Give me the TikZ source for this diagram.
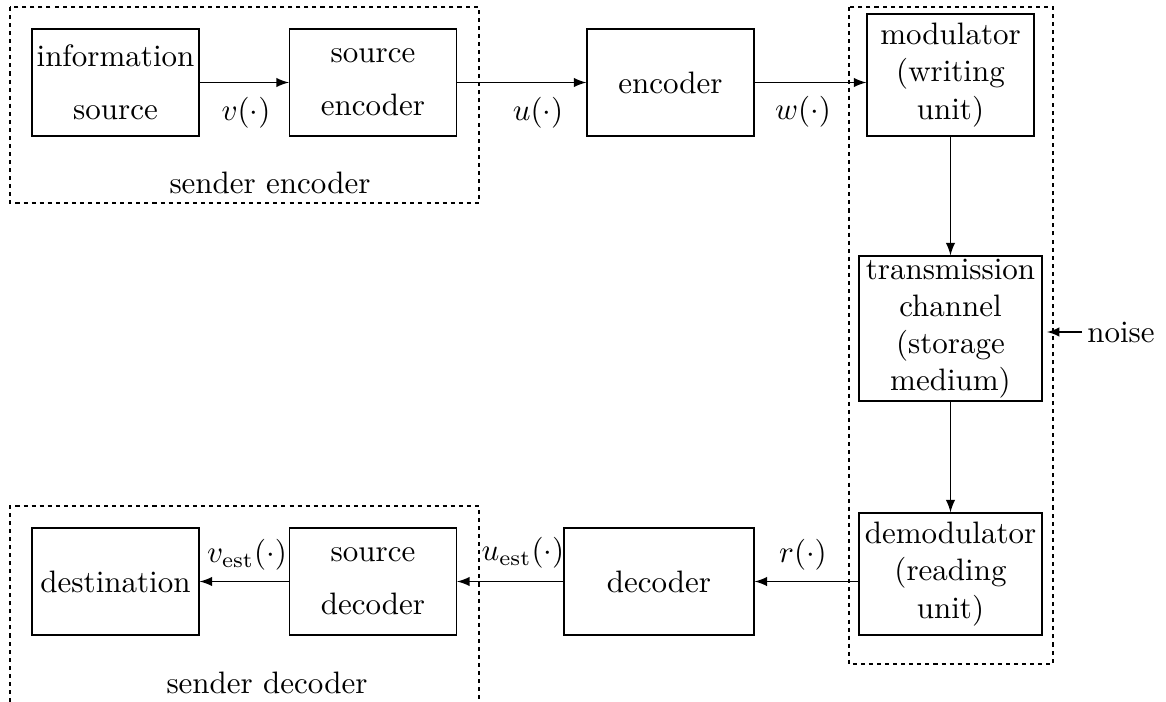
\documentclass[tikz,border=0pt]{standalone}
\begin{document}
\begin{tikzpicture}[x=0.3226pt,y=-0.3226pt,>=latex,
  box/.style={draw, line width=0.4pt, inner sep=0pt, align=center,
              minimum width=53.9pt, minimum height=34.5pt},
  lbl/.style={inner sep=0pt},
  dashbox/.style={draw, line width=0.4pt, dash pattern=on 1.3pt off 1.3pt},
  conn/.style={->, line width=0.4pt}]
\useasboundingbox (0,0) rectangle (1166,702);

% dashed groups
\draw[dashbox] (10,7) rectangle (479,203);
\draw[dashbox] (849,7) rectangle (1053,664);
\draw[dashbox] (10,702) -- (10,506) -- (479,506) -- (479,702);

% blocks
\node[box] (info) at (115.5,82.5) {information\\[5.2pt]source};
\node[box] (senc) at (373,82.5) {source\\[5.2pt]encoder};
\node[box] (enc) at (670.5,82.5) {encoder};
\node[box, minimum height=39.4pt] (mod) at (950.5,75) {modulator\\(writing\\unit)};
\node[box, minimum width=59pt, minimum height=46.8pt] (trans) at (950.5,328.5) {transmission\\channel\\(storage\\medium)};
\node[box, minimum width=59pt, minimum height=39.4pt] (demod) at (950.5,574) {demodulator\\(reading\\unit)};
\node[box, minimum width=61.3pt] (dec) at (659,581.5) {decoder};
\node[box] (sdec) at (373,581.5) {source\\[5.2pt]decoder};
\node[box] (dest) at (115.5,581.5) {destination};

% connectors
\draw[conn] (info) -- (senc);
\draw[conn] (senc) -- (enc);
\draw[conn] (enc) -- (enc -| mod.west);
\draw[conn] (mod) -- (trans);
\draw[conn] (trans) -- (demod);
\draw[conn] (demod.west |- dec) -- (dec);
\draw[conn] (dec) -- (sdec);
\draw[conn] (sdec) -- (dest);

% noise
\node[inner sep=1.5pt] (noise) at (1121,332) {noise};
\coordinate (nz) at (1047,332);
\draw[conn] (noise) -- (nz);

% signal labels
\node[lbl] (lv) at (246,113) {$v(\cdot)$};
\node[lbl] (lu) at (538,113) {$u(\cdot)$};
\node[lbl] (lw) at (803,112) {$w(\cdot)$};
\node[lbl] (lr) at (803,555) {$r(\cdot)$};
\node[lbl] (lue) at (523,553) {$u_{\mathrm{est}}(\cdot)$};
\node[lbl] (lve) at (247,555) {$v_{\mathrm{est}}(\cdot)$};

% group labels
\node[lbl] (gse) at (270,183) {sender encoder};
\node[lbl] (gsd) at (267,683) {sender decoder};
\end{tikzpicture}
\end{document}
